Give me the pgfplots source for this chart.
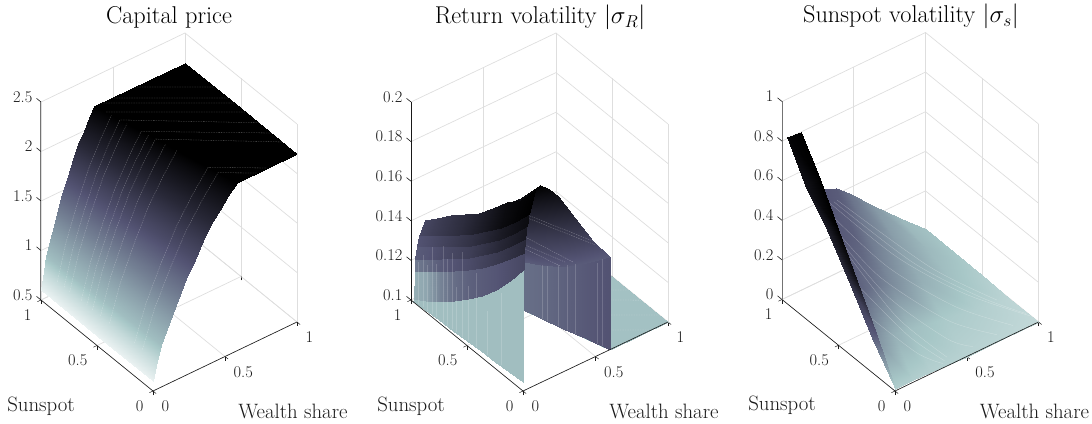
\documentclass[border=0pt]{standalone}
\usepackage{pgfplots}
\pgfplotsset{compat=1.18}
\definecolor{tk}{gray}{0.1}
\pgfplotsset{
  panel/.style={
    anchor=origin, clip=false,
    colormap={revbone}{rgb(0)=(1,1,1) rgb(2)=(.656,.781,.781) rgb(5)=(.328,.328,.453) rgb(8)=(0,0,0)},
    point meta min=0, point meta max=1,
    axis line style={draw=none},
    grid=major, grid style={black!13, line width=.7pt},
    tick align=outside, major tick length=4pt, tick style={tk, line width=.5pt},
    xtick pos=left, ytick pos=left, ztick pos=left, z tick style={draw=none},
    unbounded coords=jump,
    xtick={0,0.5,1}, ytick={0,0.5,1}, xticklabels={0,0.5,1}, yticklabels={0,0.5,1},
    xmin=0,xmax=1,ymin=0,ymax=1,
    tick label style={font=\fontsize{16.4}{18}\selectfont, text=tk},
    x tick label style={anchor=north west, xshift=2pt, yshift=-4pt},
    y tick label style={anchor=north east, xshift=-2.5pt, yshift=-4pt},
    z tick label style={anchor=east, xshift=-2pt, yshift=2.5pt},
    title style={font=\fontsize{24.3}{26}\selectfont, anchor=base, xshift=-16pt, yshift=3.6pt},
    every axis x label/.style={anchor=center, font=\fontsize{20.8}{22}\selectfont, text=tk, xshift=-4pt, yshift=-89pt},
    every axis y label/.style={anchor=center, font=\fontsize{20.8}{22}\selectfont, text=tk, yshift=-106pt},
    xlabel={Wealth share}, ylabel={Sunspot},
  },
  srf/.style={surf, shader=interp, point meta=\thisrow{t}, forget plot},
  axl/.style={tk, line width=.6pt, forget plot, mark=none},
  zaxl/.style={black!55, line width=1pt, forget plot, mark=none},
  seam/.style={white, opacity=.38, line width=.3pt, dash pattern=on 1.5pt off 1pt, forget plot, mark=none},
  streak/.style={white, opacity=.17, line width=.45pt, forget plot, mark=none},
  curve/.style={white, opacity=.33, line width=.3pt, smooth, forget plot, mark=none},
}
\begin{document}
\begin{tikzpicture}
\path[use as bounding box] (0pt,0pt) rectangle (1092pt,423pt);
% ---------- panel 1 ----------
\begin{axis}[panel, at={(153pt,32pt)},
  x={(144pt,69pt)}, y={(-112pt,91pt)}, z={(0pt,99pt)},
  zmin=0.5,zmax=2.5, ztick={0.5,1,1.5,2,2.5}, zticklabels={0.5,1,1.5,2,2.5},
  title={Capital price}, title style={at={(axis cs:1,1,2.5)}},
  every axis x label/.append style={at={(axis cs:1,0,0.5)}},
  every axis y label/.append style={at={(axis cs:0,1,0.5)}},
]
\addplot3[srf, mesh/cols=13] table {
x y z t
0 0 0.6 0.06
0.029 0 0.78 0.17
0.058 0 0.92 0.28
0.116 0 1.13 0.38
0.174 0 1.3 0.48
0.232 0 1.47 0.57
0.29 0 1.62 0.66
0.348 0 1.77 0.74
0.406 0 1.9 0.82
0.464 0 2.0 0.88
0.522 0 2.11 0.94
0.58 0 2.2 1
1 0 2.2 1
0 0.5 0.6 0.06
0.0238 0.5 0.78 0.17
0.0475 0.5 0.92 0.28
0.095 0.5 1.13 0.38
0.1425 0.5 1.3 0.48
0.19 0.5 1.47 0.57
0.2375 0.5 1.62 0.66
0.285 0.5 1.77 0.74
0.3325 0.5 1.9 0.82
0.38 0.5 2.0 0.88
0.4275 0.5 2.11 0.94
0.475 0.5 2.2 1
1 0.5 2.2 1
0 1 0.6 0.06
0.0185 1 0.78 0.17
0.037 1 0.92 0.28
0.074 1 1.13 0.38
0.111 1 1.3 0.48
0.148 1 1.47 0.57
0.185 1 1.62 0.66
0.222 1 1.77 0.74
0.259 1 1.9 0.82
0.296 1 2.0 0.88
0.333 1 2.11 0.94
0.37 1 2.2 1
1 1 2.2 1
};
% thin seams of the surface
\addplot3[seam] coordinates {(0.0204,0.82,0.78)(0.0816,0.82,1.13)(0.1632,0.82,1.47)(0.2448,0.82,1.77)(0.3264,0.82,2)(0.408,0.82,2.2)(1,0.34,2.2)};
\addplot3[seam] coordinates {(0.022,0.67,0.78)(0.0878,0.67,1.13)(0.1756,0.67,1.47)(0.2634,0.67,1.77)(0.3512,0.67,2)(0.439,0.67,2.2)(1,0.2275,2.2)};
\addplot3[seam] coordinates {(0.023,0.57,0.78)(0.092,0.57,1.13)(0.184,0.57,1.47)(0.276,0.57,1.77)(0.368,0.57,2)(0.46,0.57,2.2)(1,0.129,2.2)};
\addplot3[seam] coordinates {(0.0269,0.2,0.78)(0.1076,0.2,1.13)(0.2152,0.2,1.47)(0.3228,0.2,1.77)(0.4304,0.2,2)(0.538,0.2,2.2)(0.793,0,2.2)};
\addplot3[seam] coordinates {(0.0277,0.13,0.78)(0.1106,0.13,1.13)(0.2212,0.13,1.47)(0.3318,0.13,1.77)(0.4424,0.13,2)(0.553,0.13,2.2)(0.72,0,2.2)};
\addplot3[seam] coordinates {(0.0198,0.88,0.78)(0.079,0.88,1.13)(0.158,0.88,1.47)(0.237,0.88,1.77)(0.316,0.88,2)(0.395,0.88,2.2)};
\addplot3[seam] coordinates {(0.0209,0.77,0.78)(0.0836,0.77,1.13)(0.1672,0.77,1.47)(0.2508,0.77,1.77)(0.3344,0.77,2)(0.418,0.77,2.2)};
\addplot3[seam] coordinates {(0.0225,0.62,0.78)(0.09,0.62,1.13)(0.18,0.62,1.47)(0.27,0.62,1.77)(0.36,0.62,2)(0.45,0.62,2.2)};
\addplot3[seam] coordinates {(0.0238,0.5,0.78)(0.095,0.5,1.13)(0.19,0.5,1.47)(0.285,0.5,1.77)(0.38,0.5,2)(0.475,0.5,2.2)};
\addplot3[seam] coordinates {(0.0246,0.42,0.78)(0.0984,0.42,1.13)(0.1968,0.42,1.47)(0.2952,0.42,1.77)(0.3936,0.42,2)(0.492,0.42,2.2)};
\addplot3[seam] coordinates {(0.648,1,2.2)(1,0.733,2.2)};
\addplot3[seam] coordinates {(0.488,1,2.2)(1,0.612,2.2)};
\addplot3[seam] coordinates {(0.416,1,2.2)(1,0.557,2.2)};
\addplot3[seam] coordinates {(0.39,0.92,2.2)(1,0.458,2.2)};
\addplot3[axl] coordinates {(0,1,0.5) (0,0,0.5) (1,0,0.5)};
\addplot3[zaxl] coordinates {(0,1,2.5) (0,1,0.5)};
\addplot3[axl] coordinates {(0,1,0.5)(0,1.04,0.5) (nan,nan,nan) (0,1,1)(0,1.04,1) (nan,nan,nan) (0,1,1.5)(0,1.04,1.5) (nan,nan,nan) (0,1,2)(0,1.04,2) (nan,nan,nan) (0,1,2.5)(0,1.04,2.5)};
\end{axis}
% ---------- panel 2 ----------
\begin{axis}[panel, at={(523pt,32pt)},
  x={(145pt,69pt)}, y={(-112pt,91pt)}, z={(0pt,1980pt)},
  zmin=0.1,zmax=0.2, ztick={0.1,0.12,0.14,0.16,0.18,0.2}, zticklabels={0.1,0.12,0.14,0.16,0.18,0.2},
  title={Return volatility $|\sigma_R|$}, title style={at={(axis cs:1,1,0.2)}},
  every axis x label/.append style={at={(axis cs:1,0,0.1)}},
  every axis y label/.append style={at={(axis cs:0,1,0.1)}},
]
% floor
\addplot3[srf, mesh/cols=2] table {
x y z t
0.6 0 0.1 0.27
1 0 0.1 0.27
0.3 1 0.1 0.27
1 1 0.1 0.27
};
\addplot3[seam] coordinates {(0.919,0.413,0.1)(1,0.352,0.1)};
\addplot3[seam] coordinates {(0.866,0.344,0.1)(1,0.24,0.1)};
\addplot3[seam] coordinates {(0.79,0.236,0.1)(1,0.077,0.1)};
\addplot3[seam] coordinates {(0.705,0.136,0.1)(0.884,0,0.1)};
% surface between ridge and kink
\addplot3[srf, mesh/cols=6] table {
x y z t
0.12 0 0.2 1
0.18 0 0.196 0.97
0.24 0 0.19 0.925
0.36 0 0.175 0.81
0.48 0 0.159 0.69
0.6 0 0.147 0.6
0.105 0.15 0.187 0.95
0.1613 0.15 0.1834 0.92
0.2175 0.15 0.1778 0.88
0.33 0.15 0.1642 0.78
0.4425 0.15 0.1497 0.68
0.555 0.15 0.1385 0.6
0.09 0.3 0.177 0.92
0.1425 0.3 0.1735 0.89
0.195 0.3 0.1683 0.85
0.3 0.3 0.1554 0.76
0.405 0.3 0.1416 0.67
0.51 0.3 0.131 0.6
0.075 0.45 0.167 0.9
0.1238 0.45 0.164 0.87
0.1725 0.45 0.1594 0.82
0.27 0.45 0.1481 0.74
0.3675 0.45 0.136 0.66
0.465 0.45 0.1268 0.6
0.06 0.6 0.158 0.88
0.105 0.6 0.1554 0.85
0.15 0.6 0.1514 0.8
0.24 0.6 0.1418 0.72
0.33 0.6 0.1314 0.64
0.42 0.6 0.1235 0.6
};
\addplot3[seam] coordinates {(0.028,0,0.188)(0.497,0,0.158)};
\addplot3[seam] coordinates {(0.028,0,0.1865)(0.497,0,0.1565)};
\addplot3[seam] coordinates {(0.014,0,0.1773)(0.345,0,0.1531)};
\addplot3[seam] coordinates {(0.014,0,0.1733)(0.29,0,0.155)};
\addplot3[seam] coordinates {(0.014,0,0.1713)(0.26,0,0.154)};
% wall at the kink
\addplot3[srf, mesh/cols=2] table {
x y z t
0.6 0 0.1 0.63
0.6 0 0.147 0.63
0.555 0.15 0.1 0.61
0.555 0.15 0.1385 0.61
0.51 0.3 0.1 0.58
0.51 0.3 0.131 0.58
0.465 0.45 0.1 0.55
0.465 0.45 0.1268 0.55
0.42 0.6 0.1 0.53
0.42 0.6 0.1235 0.53
};
\addplot3[streak] coordinates {(0.469,0.437,0.1)(0.469,0.437,0.127)};
\addplot3[streak] coordinates {(0.4785,0.405,0.1)(0.4785,0.405,0.128)};
\addplot3[streak] coordinates {(0.5,0.334,0.1)(0.5,0.334,0.131)};
\addplot3[streak] coordinates {(0.517,0.277,0.1)(0.517,0.277,0.133)};
\addplot3[streak] coordinates {(0.5325,0.225,0.1)(0.5325,0.225,0.135)};
\addplot3[streak] coordinates {(0.575,0.084,0.1)(0.575,0.084,0.141)};
\addplot3[streak] coordinates {(0.585,0.051,0.1)(0.585,0.051,0.144)};
% bands of the steep sheet
\addplot3[srf, mesh/cols=2] table {
x y z t
0 0.98 0.1 0.28
0.005 0.98 0.1013 0.28
0 0.875 0.1006 0.28
0.005 0.875 0.1053 0.28
0 0.75 0.1012 0.28
0.005 0.75 0.1108 0.28
0 0.625 0.1018 0.28
0.005 0.625 0.1166 0.28
0 0.5 0.1023 0.28
0.005 0.5 0.1231 0.28
0 0.375 0.1029 0.28
0.005 0.375 0.1305 0.28
0 0.25 0.1034 0.28
0.005 0.25 0.1392 0.28
0 0.125 0.104 0.28
0.005 0.125 0.1495 0.28
0 0 0.1045 0.28
0.005 0 0.1613 0.28
};
\addplot3[srf, mesh/cols=2] table {
x y z t
0.005 0.98 0.1013 0.33
0.01 0.98 0.1148 0.33
0.005 0.875 0.1053 0.36
0.01 0.875 0.1198 0.36
0.005 0.75 0.1108 0.47
0.01 0.75 0.126 0.47
0.005 0.625 0.1166 0.54
0.01 0.625 0.1317 0.54
0.005 0.5 0.1231 0.58
0.01 0.5 0.1378 0.58
0.005 0.375 0.1305 0.6
0.01 0.375 0.1447 0.6
0.005 0.25 0.1392 0.62
0.01 0.25 0.1523 0.62
0.005 0.125 0.1495 0.65
0.01 0.125 0.1605 0.65
0.005 0 0.1613 0.68
0.01 0 0.1696 0.68
};
\addplot3[srf, mesh/cols=2] table {
x y z t
0.01 0.98 0.1148 0.5
0.015 0.98 0.1209 0.5
0.01 0.875 0.1198 0.54
0.015 0.875 0.1258 0.54
0.01 0.75 0.126 0.6
0.015 0.75 0.1319 0.6
0.01 0.625 0.1317 0.63
0.015 0.625 0.1377 0.63
0.01 0.5 0.1378 0.66
0.015 0.5 0.1438 0.66
0.01 0.375 0.1447 0.7
0.015 0.375 0.1507 0.7
0.01 0.25 0.1523 0.74
0.015 0.25 0.1582 0.74
0.01 0.125 0.1605 0.78
0.015 0.125 0.1668 0.78
0.01 0 0.1696 0.82
0.015 0 0.1764 0.82
};
\addplot3[srf, mesh/cols=2] table {
x y z t
0.015 0.98 0.1209 0.6
0.025 0.98 0.1271 0.6
0.015 0.875 0.1258 0.62
0.025 0.875 0.1317 0.62
0.015 0.75 0.1319 0.66
0.025 0.75 0.1377 0.66
0.015 0.625 0.1377 0.69
0.025 0.625 0.1434 0.69
0.015 0.5 0.1438 0.72
0.025 0.5 0.1495 0.72
0.015 0.375 0.1507 0.77
0.025 0.375 0.1565 0.77
0.015 0.25 0.1582 0.82
0.025 0.25 0.1641 0.82
0.015 0.125 0.1668 0.86
0.025 0.125 0.1727 0.86
0.015 0 0.1764 0.9
0.025 0 0.1823 0.9
};
\addplot3[srf, mesh/cols=2] table {
x y z t
0.025 0.98 0.1271 0.63
0.04 0.98 0.1321 0.63
0.025 0.875 0.1317 0.66
0.04 0.875 0.1369 0.66
0.025 0.75 0.1377 0.7
0.04 0.75 0.1431 0.7
0.025 0.625 0.1434 0.74
0.04 0.625 0.1489 0.74
0.025 0.5 0.1495 0.78
0.04 0.5 0.1551 0.78
0.025 0.375 0.1565 0.83
0.04 0.375 0.162 0.83
0.025 0.25 0.1641 0.88
0.04 0.25 0.1695 0.88
0.025 0.125 0.1727 0.92
0.04 0.125 0.1783 0.92
0.025 0 0.1823 0.95
0.04 0 0.1882 0.95
};
\addplot3[srf, mesh/cols=2] table {
x y z t
0.04 0.98 0.1321 0.68
0.083 0.98 0.1385 0.68
0.04 0.875 0.1369 0.72
0.083 0.875 0.1445 0.72
0.04 0.75 0.1431 0.76
0.083 0.75 0.1515 0.76
0.04 0.625 0.1489 0.8
0.083 0.625 0.1577 0.8
0.04 0.5 0.1551 0.85
0.083 0.5 0.1642 0.85
0.04 0.375 0.162 0.9
0.083 0.375 0.1722 0.9
0.04 0.25 0.1695 0.95
0.083 0.25 0.181 0.95
0.04 0.125 0.1783 0.98
0.083 0.125 0.188 0.98
0.04 0 0.1882 1
0.083 0 0.1986 1
};
\addplot3[streak] coordinates {(0.005,0.94,0.1005)(0.005,0.94,0.122)};
\addplot3[streak] coordinates {(0.005,0.9,0.1007)(0.005,0.9,0.127)};
\addplot3[streak] coordinates {(0.005,0.86,0.1008)(0.005,0.86,0.124)};
\addplot3[streak] coordinates {(0.005,0.82,0.101)(0.005,0.82,0.135)};
\addplot3[streak] coordinates {(0.005,0.78,0.1011)(0.005,0.78,0.128)};
\addplot3[streak] coordinates {(0.005,0.72,0.1013)(0.005,0.72,0.14)};
\addplot3[streak] coordinates {(0.005,0.68,0.1015)(0.005,0.68,0.135)};
\addplot3[streak] coordinates {(0.005,0.64,0.1017)(0.005,0.64,0.14)};
\addplot3[streak] coordinates {(0.005,0.6,0.1019)(0.005,0.6,0.125)};
\addplot3[streak] coordinates {(0.005,0.55,0.102)(0.005,0.55,0.145)};
\addplot3[streak] coordinates {(0.005,0.5,0.1023)(0.005,0.5,0.13)};
\addplot3[streak] coordinates {(0.005,0.42,0.1027)(0.005,0.42,0.14)};
\addplot3[streak] coordinates {(0.005,0.33,0.103)(0.005,0.33,0.125)};
\addplot3[streak] coordinates {(0.005,0.2,0.1036)(0.005,0.2,0.14)};
\addplot3[axl] coordinates {(0,1,0.1) (0,0,0.1) (1,0,0.1)};
\addplot3[axl] coordinates {(0,1,0.2) (0,1,0.1)};
\addplot3[axl] coordinates {(0,1,0.1)(0,1.04,0.1) (nan,nan,nan) (0,1,0.12)(0,1.04,0.12) (nan,nan,nan) (0,1,0.14)(0,1.04,0.14) (nan,nan,nan) (0,1,0.16)(0,1.04,0.16) (nan,nan,nan) (0,1,0.18)(0,1.04,0.18) (nan,nan,nan) (0,1,0.2)(0,1.04,0.2)};
\end{axis}
% ---------- panel 3 ----------
\begin{axis}[panel, at={(895pt,32pt)},
  x={(143.5pt,69pt)}, y={(-113pt,91.5pt)}, z={(0pt,198pt)},
  zmin=0,zmax=1, ztick={0,0.2,0.4,0.6,0.8,1}, zticklabels={0,0.2,0.4,0.6,0.8,1},
  title={Sunspot volatility $|\sigma_s|$}, title style={at={(axis cs:1,1,1)}, xshift=1.5pt},
  every axis x label/.append style={at={(axis cs:1,0,0)}},
  every axis y label/.append style={at={(axis cs:0,1,0)}},
]
\addplot3[srf, mesh/cols=6] table {
x y z t
0 0 0.01 0.22
0.125 0 0.01 0.22
0.25 0 0.01 0.21
0.5 0 0 0.2
0.75 0 0 0.19
1 0 0 0.17
0.0715 0.25 0.115 0.42
0.1876 0.25 0.108 0.33
0.3036 0.25 0.094 0.28
0.5358 0.25 0.0625 0.24
0.7679 0.25 0.031 0.22
1 0.25 0.003 0.19
0.143 0.5 0.23 0.58
0.25 0.5 0.215 0.52
0.357 0.5 0.188 0.45
0.5715 0.5 0.125 0.33
0.7858 0.5 0.0625 0.27
1 0.5 0.005 0.22
0.2145 0.75 0.345 0.61
0.3126 0.75 0.323 0.58
0.4109 0.75 0.282 0.5
0.6073 0.75 0.188 0.38
0.8036 0.75 0.094 0.3
1 0.75 0.008 0.25
0.286 1 0.46 0.62
0.376 1 0.43 0.6
0.4645 1 0.375 0.52
0.643 1 0.25 0.4
0.8215 1 0.125 0.3
1 1 0.01 0.27
};
\addplot3[curve] coordinates {(0.293,0.95,0.409)(0.486,0.6,0.23)(0.71,0.3,0.109)(0.996,0.07,0)};
\addplot3[curve] coordinates {(0.237,0.85,0.354)(0.289,0.5,0.244)(0.52,0.2,0.085)(0.75,0.05,0)};
\addplot3[curve] coordinates {(0.237,0.7,0.27)(0.25,0.3,0.147)(0.41,0.06,0)};
\addplot3[curve] coordinates {(0.1,0.35,0.177)(0.248,0.12,0.05)(0.358,0.03,0)};
\addplot3[curve] coordinates {(0.367,0.98,0.384)(0.676,0.55,0.137)(0.923,0.27,0.013)};
\addplot3[curve] coordinates {(0.33,0.96,0.397)(0.58,0.575,0.18)(0.815,0.285,0.06)(0.99,0.1,0)};
\addplot3[curve] coordinates {(0.265,0.9,0.38)(0.385,0.55,0.237)(0.615,0.25,0.097)(0.87,0.06,0)};
\addplot3[curve] coordinates {(0.237,0.77,0.31)(0.27,0.4,0.195)(0.465,0.13,0.042)(0.58,0.05,0)};
\addplot3[curve] coordinates {(0.17,0.52,0.22)(0.25,0.2,0.1)(0.38,0.045,0)};
\addplot3[srf, mesh/cols=2] table {
x y z t
0 0 0.015 0.22
0 0 0.015 0.22
0 0.2 0.175 0.58
0.026 0.2 0.19 0.62
0 0.4 0.355 0.78
0.052 0.4 0.352 0.92
0 0.6 0.536 0.87
0.078 0.6 0.514 1
0 0.8 0.67 0.92
0.104 0.8 0.665 1
0.035 1 0.806 0.98
0.13 1 0.8 1
};
\addplot3[axl] coordinates {(0,1,0) (0,0,0) (1,0,0)};
\addplot3[zaxl] coordinates {(0,1,1) (0,1,0)};
\addplot3[axl] coordinates {(0,1,0)(0,1.04,0) (nan,nan,nan) (0,1,0.2)(0,1.04,0.2) (nan,nan,nan) (0,1,0.4)(0,1.04,0.4) (nan,nan,nan) (0,1,0.6)(0,1.04,0.6) (nan,nan,nan) (0,1,0.8)(0,1.04,0.8) (nan,nan,nan) (0,1,1)(0,1.04,1)};
\end{axis}
\end{tikzpicture}
\end{document}
